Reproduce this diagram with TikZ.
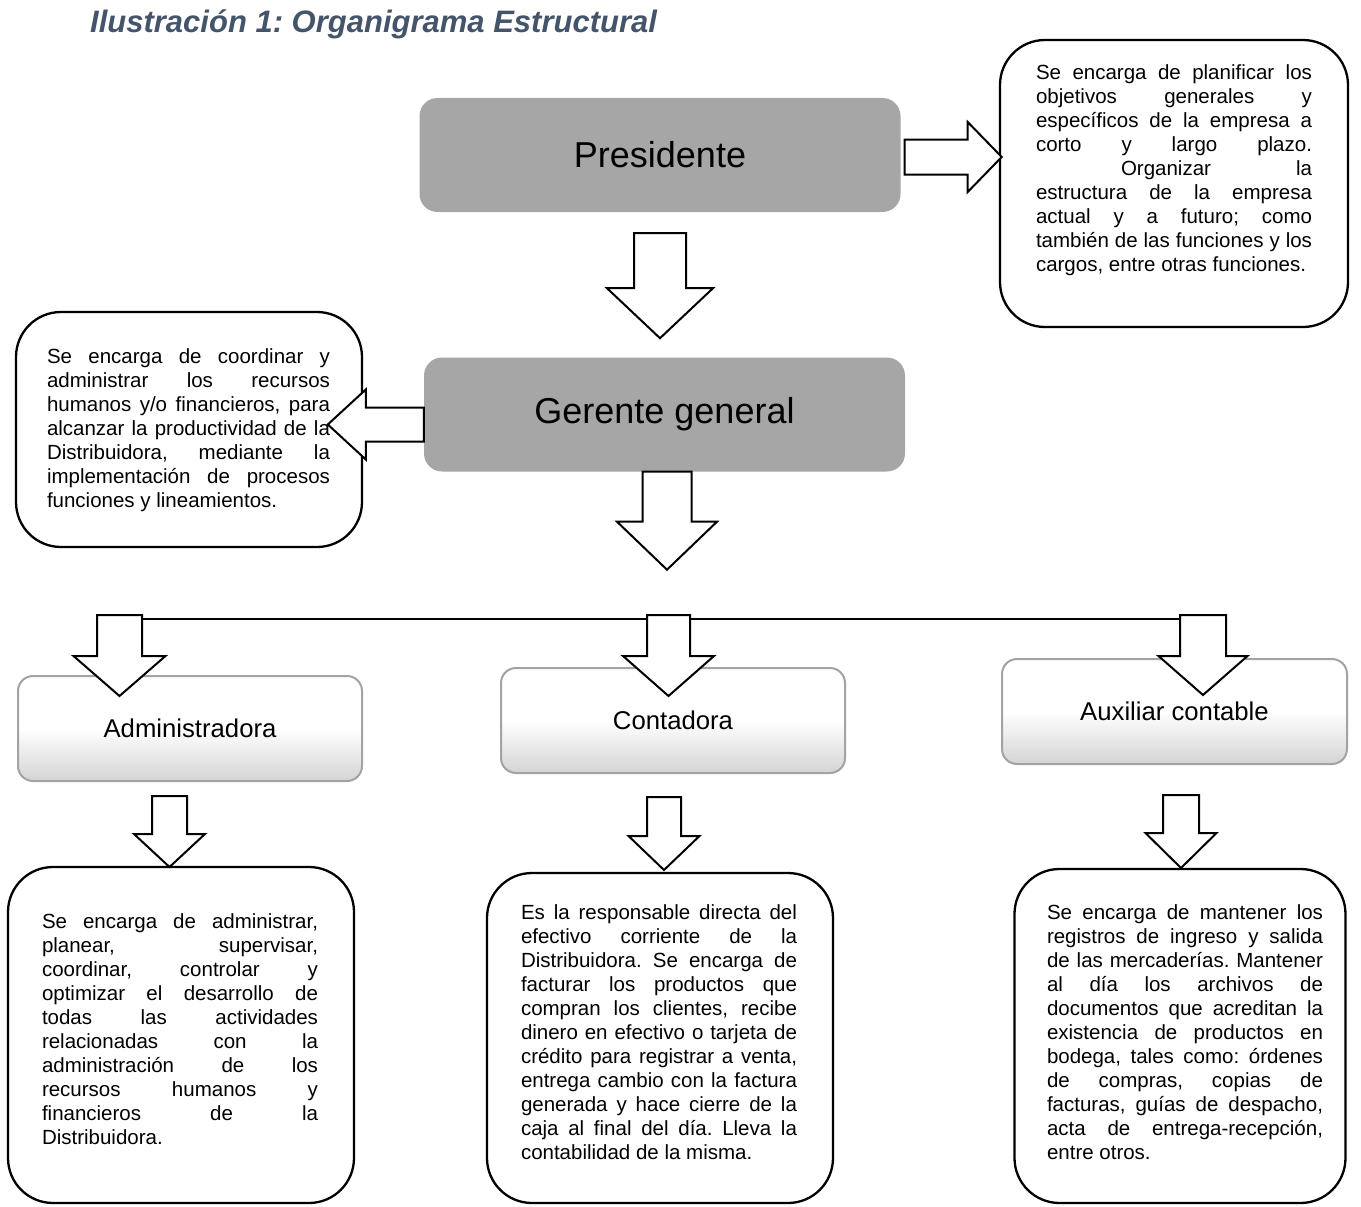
\documentclass[tikz,border=0pt]{standalone}
\usepackage{fontspec}
\setmainfont{Liberation Sans}
\frenchspacing
\definecolor{titulo}{HTML}{44546A}
\definecolor{grisjefe}{HTML}{A6A6A6}
\definecolor{bordegris}{HTML}{A3A3A3}
\definecolor{grisfondo}{HTML}{D4D4D4}
% flecha hacia abajo: punto de arriba, medio tallo, largo tallo, media punta, largo punta
\newcommand{\flechaab}[5]{\draw[flecha] #1 ++({-(#2)},0) -- ++(0,#3) -- ++({#2-#4},0) -- ++(#4,#5) -- ++(#4,{-(#5)}) -- ++({#2-#4},0) -- ++(0,{-(#3)}) -- cycle;}
% flecha horizontal (largos con signo)
\newcommand{\flechah}[5]{\draw[flecha] #1 ++(0,{-(#2)}) -- ++(#3,0) -- ++(0,{#2-#4}) -- ++(#5,#4) -- ++({-(#5)},#4) -- ++(0,{#2-#4}) -- ++({-(#3)},0) -- cycle;}
\begin{document}
\begin{tikzpicture}[x=1pt,y=-1pt,
    jefe/.style={fill=grisjefe,rounded corners=18pt,minimum width=481pt,minimum height=114pt,font=\fontsize{36}{40}\selectfont},
    rol/.style={draw=bordegris,line width=2pt,rounded corners=15pt,top color=white,bottom color=grisfondo,middle color=white,minimum width=344pt,minimum height=105pt,font=\fontsize{25.7}{30}\selectfont},
    caja/.style={draw,line width=2.3pt,rounded corners=45pt,fill=white},
    texto/.style={text width=276pt,align=justify,inner sep=0pt,font=\fontsize{20.5}{24}\selectfont},
    flecha/.style={draw,fill=white,line width=2pt},
    barra/.style={line width=1.5pt}]
    \useasboundingbox (0,0) rectangle (1361,1207);
    \node[anchor=west,inner sep=0pt,text=titulo,font=\fontsize{31}{36}\selectfont\bfseries\itshape] (titulo) at (90,24) {Ilustración 1: Organigrama Estructural};

    % cajas de descripcion
    \node[caja,minimum width=348pt,minimum height=287pt] (presdesc) at (1174,183.5) {};
    \node[texto] (presdesctxt) at (1174,170) {Se encarga de planificar los\linebreak objetivos generales y\linebreak específicos de la empresa a\linebreak corto y largo plazo.\linebreak \hspace*{85pt}Organizar la\linebreak estructura de la empresa\linebreak actual y a futuro; como\linebreak también de las funciones y los\linebreak cargos, entre otras funciones.};
    \node[caja,minimum width=346pt,minimum height=235pt] (gerdesc) at (189,429.5) {};
    \node[texto,text width=283pt] (gerdesctxt) at (188.5,430) {Se encarga de coordinar y\linebreak administrar los recursos\linebreak humanos y/o financieros, para\linebreak alcanzar la productividad de la\linebreak Distribuidora, mediante la\linebreak implementación de procesos\linebreak funciones y lineamientos.};
    \node[caja,minimum width=346pt,minimum height=336pt] (admindesc) at (181,1035) {};
    \node[texto] (admindesctxt) at (180,1029) {Se encarga de administrar,\linebreak planear, supervisar,\linebreak coordinar, controlar y\linebreak optimizar el desarrollo de\linebreak todas las actividades\linebreak relacionadas con la\linebreak administración de los\linebreak recursos humanos y\linebreak financieros de la\linebreak Distribuidora.};
    \node[caja,minimum width=346pt,minimum height=330pt] (contdesc) at (660,1038) {};
    \node[texto] (contdesctxt) at (659,1032) {Es la responsable directa del\linebreak efectivo corriente de la\linebreak Distribuidora. Se encarga de\linebreak facturar los productos que\linebreak compran los clientes, recibe\linebreak dinero en efectivo o tarjeta de\linebreak crédito para registrar a venta,\linebreak entrega cambio con la factura\linebreak generada y hace cierre de la\linebreak caja al final del día. Lleva la\linebreak contabilidad de la misma.};
    \node[caja,minimum width=331pt,minimum height=334pt] (auxdesc) at (1180,1036) {};
    \node[texto] (auxdesctxt) at (1185,1032) {Se encarga de mantener los\linebreak registros de ingreso y salida\linebreak de las mercaderías. Mantener\linebreak al día los archivos de\linebreak documentos que acreditan la\linebreak existencia de productos en\linebreak bodega, tales como: órdenes\linebreak de compras, copias de\linebreak facturas, guías de despacho,\linebreak acta de entrega-recepción,\linebreak entre otros.};

    % cargos
    \node[jefe] (pres) at (660,155) {Presidente};
    \node[jefe] (ger) at (664.5,414.5) {Gerente general};
    \node[rol] (admin) at (190,728.5) {Administradora};
    \node[rol] (cont) at (673,720.5) {Contadora};
    \node[rol,minimum width=345pt] (aux) at (1174.5,711.5) {Auxiliar contable};

    % flechas
    \flechah{([xshift=4pt,yshift=-2pt]pres.east)}{17.5}{63}{35}{34}
    \flechaab{([yshift=-21pt]pres.south)}{26}{55}{53}{50}
    \flechah{([yshift=-10pt]ger.west)}{17}{-58}{35}{-38}
    \flechaab{([xshift=2.5pt]ger.south)}{24.5}{50}{50}{48}
    \coordinate (b1) at (119.5,619);
    \coordinate (b2) at (668.5,619);
    \coordinate (b3) at (1203,619);
    \draw[barra] (b1) -- (b3);
    \flechaab{([yshift=4pt]b1)}{22.5}{41}{46}{40}
    \flechaab{([yshift=4pt]b2)}{21.5}{41}{45.5}{40}
    \flechaab{([yshift=4pt]b3)}{23}{41}{44.5}{39}
    \flechaab{([xshift=-20.5pt,yshift=-14pt]admin.south)}{17.5}{38}{35.5}{33}
    \flechaab{([xshift=-9pt,yshift=-23pt]cont.south)}{17}{39}{35.5}{34}
    \flechaab{([xshift=6.5pt,yshift=-30pt]aux.south)}{18}{38}{35.5}{35}
\end{tikzpicture}
\end{document}
